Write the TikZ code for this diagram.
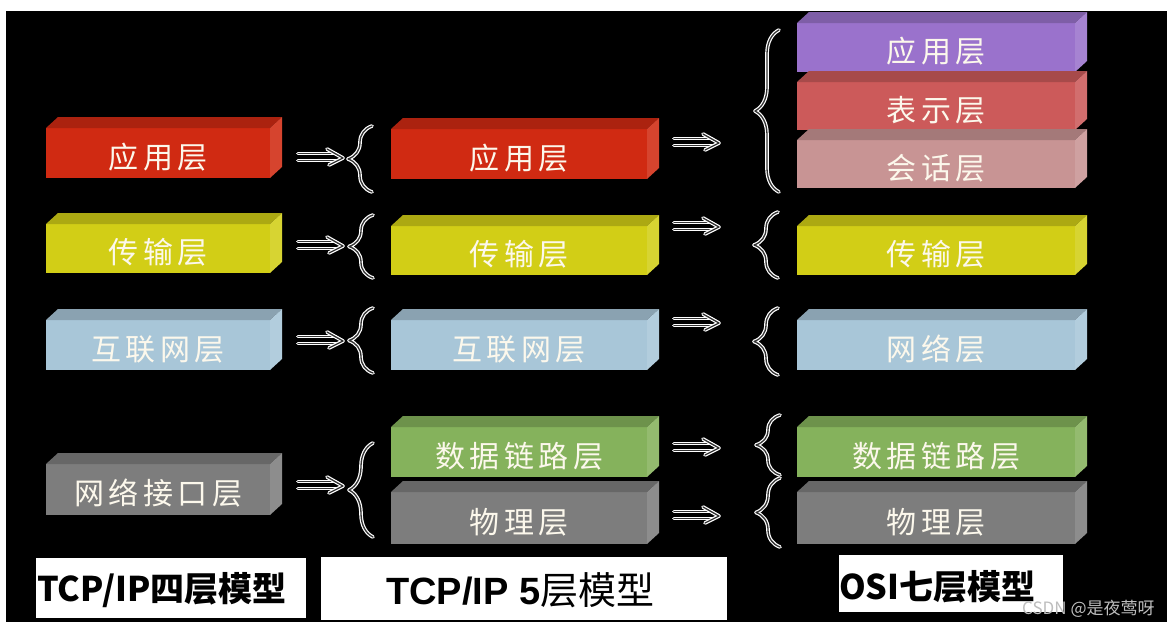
\documentclass[tikz,border=0pt]{standalone}
\usepackage{fontspec}
\usetikzlibrary{decorations.pathreplacing,calc}
\newfontfamily\cjk{Noto Sans CJK SC}
\newfontfamily\cjksp[LetterSpace=15]{Noto Sans CJK SC}
\newfontfamily\arialf{Liberation Sans}
\definecolor{cRed}{RGB}{208,42,18}
\definecolor{cYel}{RGB}{210,206,22}
\definecolor{cBlue}{RGB}{168,198,216}
\definecolor{cGray}{RGB}{125,125,125}
\definecolor{cGreen}{RGB}{133,178,92}
\definecolor{cPurple}{RGB}{154,114,204}
\definecolor{cRose}{RGB}{204,90,90}
\definecolor{cPink}{RGB}{200,148,148}
\definecolor{cText}{RGB}{252,248,236}
\definecolor{cMark}{RGB}{190,190,190}
\tikzset{
  front/.style={rectangle, inner sep=0pt, outer sep=0pt},
  lbl/.style={text=cText, inner sep=0pt, font=\fontsize{30}{32}\selectfont\cjksp},
  outl/.style={draw=white, double=black!80, line width=1.2pt, double distance=1.3pt, line cap=round, line join=round},
  brc/.style={outl, decorate, decoration={brace, amplitude=24pt}},
  labbox/.style={rectangle, fill=white, inner sep=0pt, outer sep=0pt},
  dblarrow/.pic={
    \draw[outl] (0,-3.5) -- (38,-3.5);
    \draw[outl] (0,3.5) -- (38,3.5);
    \draw[outl] (29,-8) -- (45,1) -- (31,8);
  }
}
% name, x0, y0, x1, y1, colour, text
\newcommand\layerbox[7]{%
  \node[front, fill=#6, minimum width={#4-#2}, minimum height={#5-#3}] (#1) at ({(#2+#4)/2},{(#3+#5)/2}) {};
  \fill[#6!82!black] (#1.north west) -- ++(12,-11) -- ($(#1.north east)+(12,-11)$) -- (#1.north east) -- cycle;
  \fill[#6!88!white] (#1.north east) -- ++(12,-11) -- ($(#1.south east)+(12,-11)$) -- (#1.south east) -- cycle;
  \node[lbl] (#1-t) at ($(#1.center)+(0,4)$) {#7};
}
\newcommand\bracemark[4]{% name, x, ytop, ybottom
  \coordinate (#1-top) at (#2,#3);
  \coordinate (#1-bot) at (#2,#4);
  \draw[brc] (#1-bot) -- (#1-top);
}
\newcommand\arrowmark[3]{% name, x, y
  \coordinate (#1) at (#2,#3);
  \pic at (#1) {dblarrow};
}
\begin{document}
\begin{tikzpicture}[x=1pt,y=-1pt]
\useasboundingbox (0,0) rectangle (1175,629);
\fill[white] (0,0) rectangle (1175,629);
\fill[black] (6,11) rectangle (1167,622);

% TCP/IP four layers
\layerbox{a1}{46}{128}{270}{178}{cRed}{应用层}
\layerbox{a2}{46}{224}{270}{273}{cYel}{传输层}
\layerbox{a3}{46}{320}{270}{370}{cBlue}{互联网层}
\layerbox{a4}{46}{464}{270}{515}{cGray}{网络接口层}

% TCP/IP five layers
\layerbox{b1}{391}{129}{647}{179}{cRed}{应用层}
\layerbox{b2}{391}{226}{647}{275}{cYel}{传输层}
\layerbox{b3}{391}{320}{647}{370}{cBlue}{互联网层}
\layerbox{b4}{391}{427}{647}{477}{cGreen}{数据链路层}
\layerbox{b5}{391}{492}{647}{544}{cGray}{物理层}

% OSI seven layers
\layerbox{c1}{797}{23}{1075}{72}{cPurple}{应用层}
\layerbox{c2}{797}{82}{1075}{130}{cRose}{表示层}
\layerbox{c3}{797}{140}{1075}{188}{cPink}{会话层}
\layerbox{c4}{797}{226}{1075}{275}{cYel}{传输层}
\layerbox{c5}{797}{320}{1075}{370}{cBlue}{网络层}
\layerbox{c6}{797}{427}{1075}{477}{cGreen}{数据链路层}
\layerbox{c7}{797}{492}{1075}{544}{cGray}{物理层}

% arrows 4 -> 5
\arrowmark{p1}{298}{157}
\arrowmark{p2}{298}{245}
\arrowmark{p3}{298}{340}
\arrowmark{p4}{298}{485}
% braces 4 -> 5
\bracemark{q1}{372}{126}{192}
\bracemark{q2}{373}{215}{278}
\bracemark{q3}{373}{308}{373}
\bracemark{q4}{373}{443}{537}

% arrows 5 -> 7
\arrowmark{r1}{674}{142}
\arrowmark{r2}{674}{226}
\arrowmark{r3}{674}{322}
\arrowmark{r4}{674}{447}
\arrowmark{r5}{674}{515}
% braces 5 -> 7
\bracemark{s1}{779}{30}{192}
\bracemark{s2}{778}{212}{278}
\bracemark{s3}{778}{308}{375}
\bracemark{s4}{780}{415}{475}
\bracemark{s5}{780}{478}{547}

% captions
\node[labbox, minimum width=270, minimum height=60] (m4) at (171,588) {};
\node[anchor=west, inner sep=0pt, font=\fontsize{34}{36}\selectfont\cjk\bfseries] (m4-t) at (37,590) {TCP/IP四层模型};
\node[labbox, minimum width=406, minimum height=63] (m5) at (524,588.5) {};
\node[anchor=west, inner sep=0pt, font=\fontsize{38}{40}\selectfont] (m5-t) at (386,590) {{\arialf\bfseries TCP/IP 5}{\cjk 层模型}};
\node[labbox, minimum width=224, minimum height=57] (m7) at (951,583.5) {};
\node[anchor=west, inner sep=0pt, font=\fontsize{34}{36}\selectfont\cjk\bfseries] (m7-t) at (839,587) {OSI七层模型};

\node[anchor=west, inner sep=0pt, text=cMark, font=\fontsize{17}{18}\selectfont\cjk] (wm) at (1022,609) {CSDN @是夜莺呀};
\end{tikzpicture}
\end{document}
